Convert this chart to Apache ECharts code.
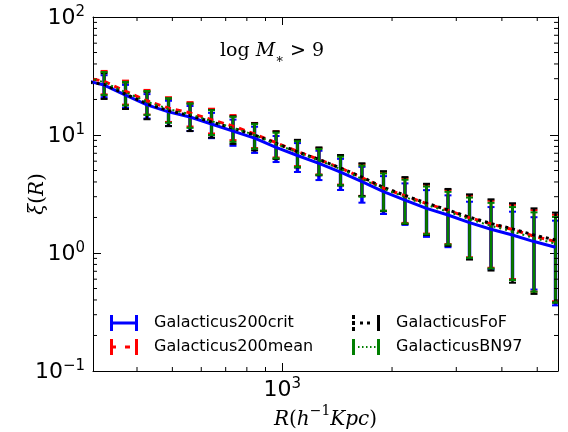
<!DOCTYPE html>
<html>
<head>
<meta charset="utf-8">
<script src="https://cdn.jsdelivr.net/npm/echarts@6/dist/echarts.min.js"></script>
<style>html,body{margin:0;padding:0;background:#fff;}#c{width:568px;height:432px;}</style>
</head>
<body>
<div id="c"></div>
<script>
// ---- data ----
const R = [284, 325, 372, 426, 488, 559, 640, 733, 840, 962, 1101, 1261, 1445, 1654, 1895, 2170, 2486, 2847, 3261, 3735, 4277, 4899, 5611];

const crit    = [29.5, 26.5, 21.8, 18.0, 15.7, 14.2, 12.4, 10.8, 9.4, 7.85, 6.7, 5.75, 4.85, 4.02, 3.31, 2.81, 2.39, 2.10, 1.81, 1.59, 1.42, 1.25, 1.12];
const critErr = [6.2, 5.6, 4.8, 4.2, 3.8, 3.4, 3.0, 2.7, 2.35, 1.95, 1.84, 1.6, 1.43, 1.35, 1.17, 1.08, 1.02, 0.98, 0.91, 0.86, 0.82, 0.76, 0.76];

const mean    = [31.0, 28.5, 23.5, 19.5, 16.9, 15.4, 13.5, 11.9, 10.2, 8.6, 7.25, 6.2, 5.25, 4.35, 3.55, 3.05, 2.62, 2.30, 1.99, 1.76, 1.58, 1.39, 1.25];
const meanErr = [6.6, 6.4, 5.4, 4.6, 4.0, 3.6, 3.2, 2.85, 2.45, 2.15, 1.8, 1.57, 1.45, 1.3, 1.27, 1.25, 1.16, 1.11, 1.07, 1.01, 0.98, 0.92, 0.86];

const fof     = [28.5, 26.8, 22.2, 18.4, 16.1, 14.6, 12.9, 11.4, 10.0, 8.5, 7.2, 6.2, 5.25, 4.4, 3.6, 3.08, 2.64, 2.32, 2.01, 1.78, 1.60, 1.42, 1.29];
const fofErr  = [6.8, 6.6, 5.6, 4.8, 4.2, 3.8, 3.4, 3.0, 2.6, 2.25, 1.9, 1.65, 1.52, 1.36, 1.34, 1.32, 1.22, 1.17, 1.13, 1.07, 1.04, 0.97, 0.91];

const bn97    = [31.5, 28.0, 23.0, 19.2, 16.6, 15.0, 13.1, 11.5, 10.0, 8.4, 7.1, 6.1, 5.15, 4.25, 3.5, 2.98, 2.55, 2.24, 1.93, 1.70, 1.52, 1.34, 1.20];
const bn97Err = [6.4, 6.2, 5.2, 4.4, 3.9, 3.5, 3.1, 2.75, 2.35, 2.05, 1.75, 1.5, 1.4, 1.25, 1.22, 1.2, 1.11, 1.06, 1.02, 0.96, 0.93, 0.87, 0.82];

const seriesNames = ['Galacticus200crit', 'Galacticus200mean', 'GalacticusFoF', 'GalacticusBN97'];
const xRange = [303, 5700];
const yRange = [0.1, 100];
const xMajorTicks = [1000];
const xMinorTicks = [400, 500, 600, 700, 800, 900, 2000, 3000, 4000, 5000];
const yMajorTicks = [0.1, 1, 10, 100];
const yMinorTicks = [0.2, 0.3, 0.4, 0.5, 0.6, 0.7, 0.8, 0.9, 2, 3, 4, 5, 6, 7, 8, 9, 20, 30, 40, 50, 60, 70, 80, 90];

// ---- styling ----
const COLORS = ['#0000ff', '#ff0000', '#000000', '#007f00'];
const LINESTYLES = [
  {width: 3, type: 'solid'},
  {width: 3, type: [6, 5]},
  {width: 3, type: [3, 4]},
  {width: 2, type: [2, 4]}
];
const ROD_W = [3.5, 2.5, 2.5, 2.5];
const ICONS = [
  'path://M0,0h3v16h-3zM3,6.5h22v3h-22zM25,0h3v16h-3z',
  'path://M0,0h3v16h-3zM3,6.5h3v3h-3zM15,6.5h5v3h-5zM25,0h3v16h-3z',
  'path://M0,0h3v4h-3zM0,6h3v4h-3zM0,12h3v4h-3zM8,6.5h3v3h-3zM15,6.5h3v3h-3zM25,0h3v16h-3z',
  'path://M0,0h3v16h-3zM6,7h1.5v2h-1.5zM10,7h1.5v2h-1.5zM14,7h1.5v2h-1.5zM18,7h1.5v2h-1.5zM22,7h1.5v2h-1.5zM25,0h3v16h-3z'
];

const values = [crit, mean, fof, bn97];
const errors = [critErr, meanErr, fofErr, bn97Err];

function supLabel(v) {
  const e = Math.round(Math.log10(v));
  return '{b|10}{s|' + (e < 0 ? '\u2212' + (-e) : e) + '}';
}
function isMajor(v, list) {
  return list.some(t => Math.abs(Math.log10(v) - Math.log10(t)) < 1e-6);
}

function errRender(color, rodW) {
  return function (params, api) {
    const x = api.value(0), lo = api.value(1), hi = api.value(2);
    const pHi = api.coord([x, hi]);
    const pLo = api.coord([x, lo]);
    const cw = 3.5;
    return {
      type: 'group',
      children: [
        {type: 'line', shape: {x1: pHi[0], y1: pHi[1], x2: pLo[0], y2: pLo[1]}, style: {stroke: color, lineWidth: rodW}},
        {type: 'line', shape: {x1: pHi[0] - cw, y1: pHi[1], x2: pHi[0] + cw, y2: pHi[1]}, style: {stroke: color, lineWidth: 2}},
        {type: 'line', shape: {x1: pLo[0] - cw, y1: pLo[1], x2: pLo[0] + cw, y2: pLo[1]}, style: {stroke: color, lineWidth: 2}}
      ]
    };
  };
}

const series = [];
for (let k = 0; k < 4; k++) {
  series.push({
    name: seriesNames[k] + ' err',
    type: 'custom',
    coordinateSystem: 'cartesian2d',
    clip: true,
    silent: true,
    renderItem: errRender(COLORS[k], ROD_W[k]),
    encode: {x: 0, y: [1, 2]},
    data: R.map((r, i) => [r, values[k][i] - errors[k][i], values[k][i] + errors[k][i]])
  });
  series.push({
    name: seriesNames[k],
    type: 'line',
    silent: true,
    showSymbol: false,
    symbol: 'none',
    clip: true,
    itemStyle: {color: COLORS[k]},
    lineStyle: Object.assign({color: COLORS[k], cap: 'butt'}, LINESTYLES[k]),
    data: R.map((r, i) => [r, values[k][i]])
  });
}

// minor ticks (log minor ticks at 2..9 x decade), drawn via the axes' own scales
series.push({
  type: 'custom', coordinateSystem: 'cartesian2d', silent: true, clip: false,
  encode: {x: 0, y: 1},
  data: yMinorTicks.map(v => [xRange[0], v]),
  renderItem: function (params, api) {
    const cs = params.coordSys;
    const y = api.coord([xRange[0], api.value(1)])[1];
    return {type: 'group', children: [
      {type: 'line', shape: {x1: cs.x, y1: y, x2: cs.x + 4, y2: y}, style: {stroke: '#000', lineWidth: 1}},
      {type: 'line', shape: {x1: cs.x + cs.width - 4, y1: y, x2: cs.x + cs.width, y2: y}, style: {stroke: '#000', lineWidth: 1}}
    ]};
  }
});
series.push({
  type: 'custom', coordinateSystem: 'cartesian2d', silent: true, clip: false,
  encode: {x: 0, y: 1},
  data: xMinorTicks.map(v => [v, yRange[0]]),
  renderItem: function (params, api) {
    const cs = params.coordSys;
    const x = api.coord([api.value(0), yRange[0]])[0];
    return {type: 'group', children: [
      {type: 'line', shape: {x1: x, y1: cs.y + cs.height, x2: x, y2: cs.y + cs.height - 4}, style: {stroke: '#000', lineWidth: 1}},
      {type: 'line', shape: {x1: x, y1: cs.y, x2: x, y2: cs.y + 4}, style: {stroke: '#000', lineWidth: 1}}
    ]};
  }
});

const tickLabelRich = {
  b: {fontFamily: 'DejaVu Sans', fontSize: 22, color: '#000', lineHeight: 24, verticalAlign: 'bottom'},
  s: {fontFamily: 'DejaVu Sans', fontSize: 15, color: '#000', lineHeight: 15, verticalAlign: 'top'}
};
const mathRich = {
  i: {fontFamily: 'DejaVu Serif', fontStyle: 'italic', fontSize: 20, color: '#000', lineHeight: 26, verticalAlign: 'bottom'},
  n: {fontFamily: 'DejaVu Serif', fontSize: 20, color: '#000', lineHeight: 26, verticalAlign: 'bottom'},
  s: {fontFamily: 'DejaVu Serif', fontSize: 14, color: '#000', lineHeight: 14, verticalAlign: 'top'}
};

const axisCommonX = {
  type: 'log', logBase: 10, min: xRange[0], max: xRange[1],
  splitLine: {show: false},
  axisLine: {show: true, lineStyle: {color: '#000', width: 1}},
  axisTick: {show: true, inside: true, length: 8, lineStyle: {color: '#000', width: 1}},
};
const axisCommonY = {
  type: 'log', logBase: 10, min: yRange[0], max: yRange[1],
  splitLine: {show: false},
  axisLine: {show: true, lineStyle: {color: '#000', width: 1}},
  axisTick: {show: true, inside: true, length: 8, lineStyle: {color: '#000', width: 1}},
};

const option = {
  animation: false,
  backgroundColor: '#fff',
  grid: {left: 93, top: 17, width: 465, height: 354, containLabel: false, outerBoundsMode: 'none'},
  xAxis: [
    Object.assign({}, axisCommonX, {
      position: 'bottom',
      name: '{i|R}{n|(}{i|h}{s|\u22121}{i|Kpc}{n|)}',
      nameLocation: 'middle', nameGap: 33, nameMoveOverlap: false,
      nameTextStyle: {rich: mathRich},
      axisLabel: {
        show: true, margin: 6,
        showMinLabel: false, showMaxLabel: false,
        formatter: v => isMajor(v, xMajorTicks) ? supLabel(v) : '',
        rich: tickLabelRich
      }
    }),
    Object.assign({}, axisCommonX, {position: 'top', axisLabel: {show: false}})
  ],
  yAxis: [
    Object.assign({}, axisCommonY, {
      position: 'left',
      name: '{i|\u03be}{n|(}{i|R}{n|)}',
      nameLocation: 'middle', nameGap: 45, nameRotate: 90, nameMoveOverlap: false,
      nameTextStyle: {rich: mathRich},
      axisLabel: {
        show: true, margin: 8,
        formatter: v => isMajor(v, yMajorTicks) ? supLabel(v) : '',
        rich: tickLabelRich
      }
    }),
    Object.assign({}, axisCommonY, {position: 'right', axisLabel: {show: false}})
  ],
  legend: [
    {
      orient: 'vertical', left: 110, top: 315, padding: 0, itemGap: 8,
      itemWidth: 28, itemHeight: 16, selectedMode: false,
      itemStyle: {borderWidth: 0},
      textStyle: {fontFamily: 'DejaVu Sans', fontSize: 16, color: '#000', padding: [0, 0, 0, 11]},
      data: [{name: seriesNames[0], icon: ICONS[0]}, {name: seriesNames[1], icon: ICONS[1]}]
    },
    {
      orient: 'vertical', left: 352, top: 315, padding: 0, itemGap: 8,
      itemWidth: 28, itemHeight: 16, selectedMode: false,
      itemStyle: {borderWidth: 0},
      textStyle: {fontFamily: 'DejaVu Sans', fontSize: 16, color: '#000', padding: [0, 0, 0, 11]},
      data: [{name: seriesNames[2], icon: ICONS[2]}, {name: seriesNames[3], icon: ICONS[3]}]
    }
  ],
  graphic: [{
    type: 'text', left: 220, top: 42, silent: true,
    style: {
      text: '{n|log }{i|M}{d|\u2217}{n| > 9}',
      rich: {
        i: {fontFamily: 'DejaVu Serif', fontStyle: 'italic', fontSize: 19, fill: '#000', lineHeight: 24, verticalAlign: 'bottom'},
        n: {fontFamily: 'DejaVu Serif', fontSize: 19, fill: '#000', lineHeight: 24, verticalAlign: 'bottom'},
        d: {fontFamily: 'DejaVu Serif', fontSize: 13, fill: '#000', lineHeight: 13, verticalAlign: 'bottom', padding: [0, 0, -5, 0]}
      }
    }
  }],
  series: series
};

const chart = echarts.init(document.getElementById('c'), null, {renderer: 'canvas'});
chart.setOption(option);
</script>
</body>
</html>
